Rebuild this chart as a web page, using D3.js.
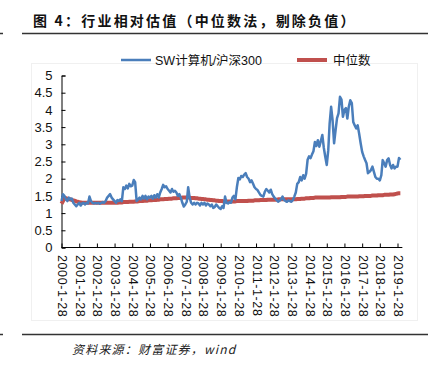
<!DOCTYPE html>
<html><head><meta charset="utf-8">
<script src="https://cdn.jsdelivr.net/npm/d3@7"></script>
<style>body{margin:0;background:#fff}svg{display:block}</style>
</head><body>
<svg id="c" width="438" height="373"></svg>
<script>
// ---- data (monthly, starting 2000-01-28) ----
const firstMonth = "2000-01-28";
const swRel = [
  // 2000
  1.35,1.55,1.5,1.4,1.35,1.45,1.4,1.42,1.3,1.25,1.2,1.25,
  // 2001
  1.3,1.22,1.28,1.3,1.25,1.3,1.28,1.48,1.35,1.3,1.28,1.3,
  // 2002
  1.28,1.3,1.27,1.3,1.32,1.3,1.35,1.45,1.5,1.55,1.45,1.4,
  // 2003
  1.35,1.3,1.38,1.35,1.4,1.35,1.75,1.7,1.8,1.72,1.85,1.78,
  // 2004
  1.8,1.96,1.9,1.35,1.4,1.45,1.4,1.5,1.42,1.5,1.4,1.48,
  // 2005
  1.45,1.5,1.42,1.52,1.45,1.55,1.45,1.6,1.7,1.82,1.75,1.78,
  // 2006
  1.7,1.65,1.6,1.7,1.62,1.65,1.6,1.5,1.55,1.45,1.3,1.19,
  // 2007
  1.25,1.33,1.75,1.45,1.3,1.25,1.3,1.25,1.3,1.28,1.22,1.3,
  // 2008
  1.25,1.3,1.22,1.28,1.25,1.2,1.25,1.15,1.18,1.25,1.2,1.15,
  // 2009
  1.12,1.2,1.15,1.48,1.3,1.28,1.32,1.3,1.45,1.5,1.4,1.75,
  // 2010
  2.02,1.98,2.08,2.05,2.12,2.16,2.05,2.0,1.9,1.95,1.85,1.75,
  // 2011
  1.7,1.67,1.6,1.53,1.5,1.48,1.62,1.7,1.65,1.6,1.68,1.55,
  // 2012
  1.48,1.42,1.38,1.33,1.36,1.4,1.48,1.38,1.35,1.33,1.37,1.35,
  // 2013
  1.33,1.38,1.48,1.6,1.85,1.9,2.05,1.95,2.1,2.0,2.15,2.55,
  // 2014
  2.65,2.6,2.7,2.8,3.07,2.95,3.12,2.93,3.1,3.27,2.9,2.64,
  // 2015
  2.4,2.83,3.6,4.09,3.7,3.03,3.4,3.76,3.9,4.38,4.3,3.8,
  // 2016
  4.0,4.05,3.75,4.1,4.28,4.2,3.65,3.55,3.46,3.55,3.3,3.03,
  // 2017
  2.78,2.65,2.55,2.45,2.16,2.2,2.25,2.35,2.2,2.05,2.0,2.0,
  // 2018
  1.95,2.1,2.54,2.45,2.35,2.54,2.59,2.4,2.3,2.4,2.3,2.35,
  // 2019
  2.35,2.6,2.55
];
const medianRel = [
  // 2000
  1.27,1.35,1.45,1.43,1.42,1.4,1.4,1.38,1.37,1.36,1.34,1.33,
  // 2001
  1.32,1.31,1.3,1.3,1.3,1.3,1.3,1.3,1.3,1.3,1.3,1.3,
  // 2002
  1.3,1.3,1.3,1.3,1.3,1.3,1.3,1.3,1.3,1.3,1.3,1.3,
  // 2003
  1.3,1.3,1.3,1.31,1.31,1.31,1.32,1.32,1.32,1.32,1.33,1.33,
  // 2004
  1.33,1.33,1.34,1.34,1.34,1.35,1.35,1.35,1.36,1.36,1.36,1.37,
  // 2005
  1.37,1.37,1.38,1.38,1.38,1.39,1.39,1.4,1.4,1.4,1.41,1.41,
  // 2006
  1.41,1.42,1.42,1.42,1.43,1.43,1.43,1.44,1.44,1.44,1.45,1.45,
  // 2007
  1.45,1.45,1.45,1.45,1.44,1.44,1.44,1.43,1.43,1.42,1.42,1.41,
  // 2008
  1.41,1.4,1.4,1.39,1.39,1.38,1.38,1.37,1.37,1.36,1.36,1.35,
  // 2009
  1.35,1.35,1.34,1.34,1.34,1.34,1.34,1.34,1.34,1.34,1.34,1.35,
  // 2010
  1.35,1.35,1.35,1.35,1.35,1.35,1.35,1.36,1.36,1.36,1.36,1.37,
  // 2011
  1.37,1.37,1.37,1.38,1.38,1.38,1.38,1.38,1.39,1.39,1.39,1.39,
  // 2012
  1.39,1.39,1.39,1.4,1.4,1.4,1.4,1.4,1.4,1.4,1.4,1.4,
  // 2013
  1.4,1.4,1.4,1.4,1.41,1.41,1.41,1.42,1.42,1.42,1.43,1.43,
  // 2014
  1.43,1.44,1.44,1.44,1.45,1.45,1.45,1.45,1.45,1.45,1.45,1.45,
  // 2015
  1.45,1.45,1.45,1.46,1.46,1.46,1.46,1.46,1.46,1.46,1.47,1.47,
  // 2016
  1.47,1.47,1.48,1.48,1.48,1.48,1.48,1.48,1.48,1.48,1.49,1.49,
  // 2017
  1.49,1.49,1.5,1.5,1.5,1.5,1.5,1.51,1.51,1.51,1.51,1.52,
  // 2018
  1.52,1.52,1.52,1.53,1.53,1.53,1.53,1.54,1.54,1.54,1.55,1.56,
  // 2019
  1.57,1.58,1.58
];
const yTickValues = [0,0.5,1,1.5,2,2.5,3,3.5,4,4.5,5];
const xTickLabels = ["2000-1-28","2001-1-28","2002-1-28","2003-1-28","2004-1-28","2005-1-28","2006-1-28","2007-1-28","2008-1-28","2009-1-28","2010-1-28","2011-1-28","2012-1-28","2013-1-28","2014-1-28","2015-1-28","2016-1-28","2017-1-28","2018-1-28","2019-1-28"];
const seriesNames = ["SW计算机/沪深300","中位数"];
const titleText = "图 4：行业相对估值（中位数法，剔除负值）";
const sourceText = "资料来源：财富证券，wind";

// ---- drawing ----
const svg = d3.select("#c");
const parse = d3.timeParse("%Y-%m-%d");
const parseTick = d3.timeParse("%Y-%-m-%d");
const start = parse(firstMonth);
const dates = swRel.map((_, i) => d3.timeMonth.offset(start, i));
const tickDates = xTickLabels.map(parseTick);

const x = d3.scaleTime().domain([tickDates[0], tickDates[tickDates.length-1]]).range([61.5, 397.5]);
const y = d3.scaleLinear().domain([0,5]).range([247.5, 75.5]);

const latin = "'Liberation Sans', Arial, 'Noto Sans CJK SC', sans-serif";

// faint chart frame
svg.append("rect").attr("x",31.5).attr("y",63.5).attr("width",386).attr("height",257)
  .attr("fill","none").attr("stroke","#f0f0f0").attr("stroke-width",1);

// title
svg.append("text").attr("x",33).attr("y",25.5).text(titleText)
  .attr("font-family","'Noto Sans CJK SC', sans-serif").attr("font-weight",700)
  .attr("font-size",14).attr("letter-spacing",2.2).attr("fill","#111");

// rules
[33.5, 334.5].forEach(yy => {
  svg.append("line").attr("x1",22).attr("x2",428).attr("y1",yy).attr("y2",yy)
    .attr("stroke","#333").attr("stroke-width",1.5);
  svg.append("line").attr("x1",0).attr("x2",3).attr("y1",yy).attr("y2",yy)
    .attr("stroke","#333").attr("stroke-width",1.5);
});

// footer
svg.append("text").attr("x",72).attr("y",354).text(sourceText)
  .attr("font-family","'Noto Sans CJK SC', serif").attr("font-style","italic")
  .attr("font-size",12).attr("letter-spacing",1.2).attr("fill","#222");

// y axis
const yAxis = d3.axisLeft(y).tickValues(yTickValues).tickSize(-4).tickPadding(9)
  .tickFormat(d3.format("~g"));
const gy = svg.append("g").attr("transform","translate(61.5,0)").call(yAxis);
gy.select(".domain").attr("stroke","#000");
gy.selectAll(".tick line").attr("stroke","#000");
gy.selectAll("text").attr("font-family",latin).attr("font-size",13).attr("fill","#111");

// x axis
const xAxis = d3.axisBottom(x).tickValues(tickDates).tickSize(-4).tickSizeOuter(0)
  .tickFormat((d,i) => xTickLabels[i]);
const gx = svg.append("g").attr("transform","translate(0,247.5)").call(xAxis);
gx.select(".domain").attr("stroke","#000").attr("d", `M61.5,0H${x(dates[dates.length-1])+2}`);
gx.selectAll(".tick line").attr("stroke","#000");
gx.selectAll("text").attr("font-family",latin).attr("font-size",12.5).attr("fill","#111")
  .attr("text-anchor","start").attr("dy",null).attr("y",0)
  .attr("transform","translate(0,7.5) rotate(90)").attr("dominant-baseline","central")
  .attr("letter-spacing",0.6);

// lines
const line = d3.line().x((d,i)=>x(dates[i])).y(d=>y(d));
svg.append("path").datum(medianRel).attr("d",line).attr("fill","none")
  .attr("stroke","#C0504D").attr("stroke-width",4).attr("stroke-linejoin","round");
svg.append("path").datum(swRel).attr("d",line).attr("fill","none")
  .attr("stroke","#4A7EBB").attr("stroke-width",2.5).attr("stroke-linejoin","round");

// legend
const leg = [{c:"#4A7EBB",w:2.5,x:121,tx:155},{c:"#C0504D",w:4,x:297,tx:333}];
leg.forEach((l,i)=>{
  svg.append("line").attr("x1",l.x).attr("x2",l.x+30).attr("y1",60).attr("y2",60)
    .attr("stroke",l.c).attr("stroke-width",l.w);
  svg.append("text").attr("x",l.tx).attr("y",64.5).text(seriesNames[i])
    .attr("font-family",latin).attr("font-size",12.5).attr("fill","#111");
});
</script>
</body></html>
